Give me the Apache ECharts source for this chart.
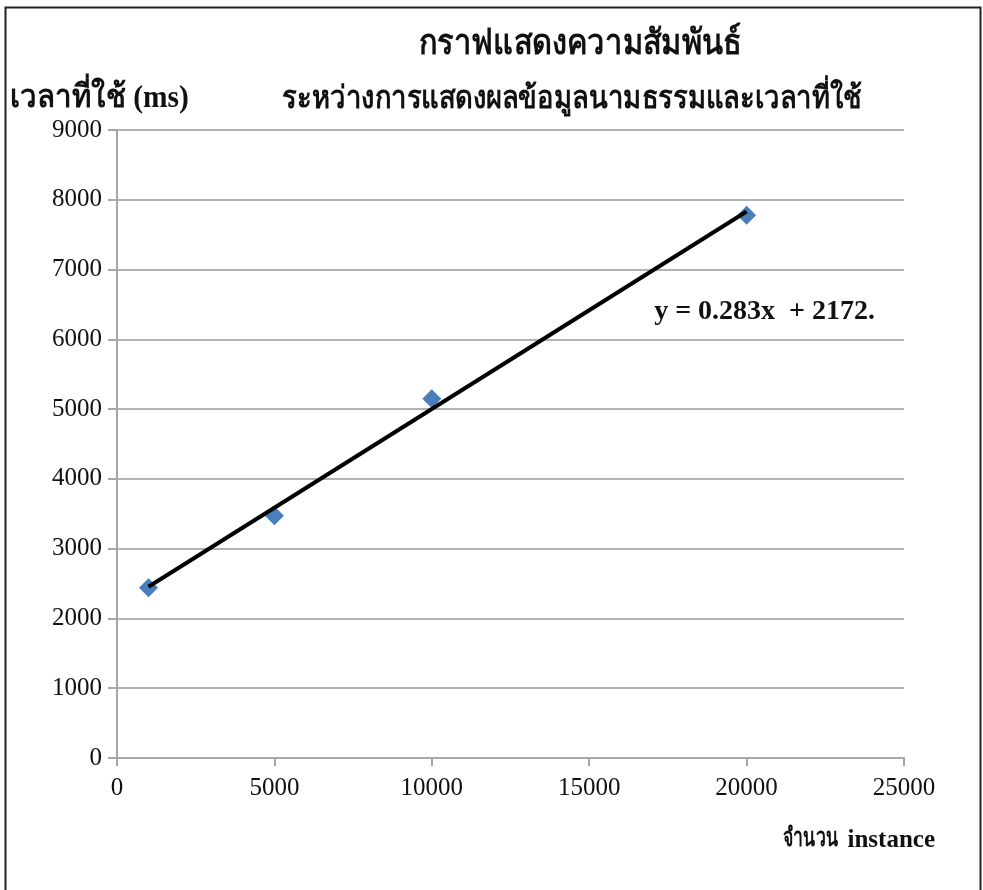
<!DOCTYPE html>
<html>
<head>
<meta charset="utf-8">
<script src="https://cdn.jsdelivr.net/npm/echarts@6/dist/echarts.min.js"></script>
<style>
  html, body { margin: 0; padding: 0; background: #fff; }
  #chart { width: 983px; height: 890px; }
</style>
</head>
<body>
<div id="chart"></div>
<script>
// Measured rendering times per number of instances
const instances = [1000, 5000, 10000, 20000];
const timesMs = [2440, 3470, 5150, 7780];

// Linear trendline as printed on the chart: y = 0.283x + 2172
const trendSlope = 0.283;
const trendIntercept = 2172;
const trendLabel = 'y = 0.283x  + 2172.';

const titleLine1 = 'กราฟแสดงความสัมพันธ์';
const titleLine2 = 'ระหว่างการแสดงผลข้อมูลนามธรรมและเวลาที่ใช้';
const yAxisName = 'เวลาที่ใช้ (ms)';
const xAxisNameThai = 'จำนวน';
const xAxisNameEn = 'instance';

const serif = '"Liberation Serif", "Times New Roman", serif';

const points = instances.map((x, i) => [x, timesMs[i]]);
const trendStart = instances[0];
const trendEnd = instances[instances.length - 1];
const trendLine = [
  [trendStart, trendSlope * trendStart + trendIntercept],
  [trendEnd, trendSlope * trendEnd + trendIntercept]
];

const chart = echarts.init(document.getElementById('chart'), null, { renderer: 'canvas' });

chart.setOption({
  backgroundColor: '#ffffff',
  animation: false,
  textStyle: { fontFamily: serif },
  graphic: [
    {
      type: 'rect',
      shape: { x: 5.5, y: 7.5, width: 975, height: 890 },
      style: { fill: 'none', stroke: '#222', lineWidth: 2 },
      z: 100
    },
    // Condensed bold titles
    {
      type: 'text', x: 580, y: 27, scaleX: 0.88,
      style: { text: titleLine1, font: 'bold 35px ' + serif, fill: '#111', textAlign: 'center' }
    },
    {
      type: 'text', x: 572, y: 84, scaleX: 0.87,
      style: { text: titleLine2, font: 'bold 31.5px ' + serif, fill: '#111', textAlign: 'center' }
    },
    {
      type: 'text', x: 10, y: 83, scaleX: 0.92,
      style: { text: yAxisName, font: 'bold 32px ' + serif, fill: '#111' }
    },
    // x-axis name: condensed Thai word followed by "instance"
    {
      type: 'text', x: 838, y: 826, scaleX: 0.68,
      style: { text: xAxisNameThai, font: 'bold 26px ' + serif, fill: '#111', textAlign: 'right' }
    },
    {
      type: 'text', x: 935, y: 828,
      style: { text: xAxisNameEn, font: 'bold 25px ' + serif, fill: '#111', textAlign: 'right' }
    }
  ],
  grid: { left: 117, right: 79, top: 130, bottom: 132, containLabel: false },
  xAxis: {
    type: 'value',
    min: 0, max: 25000, interval: 5000,
    axisLine: { show: true, lineStyle: { color: '#a6a6a6', width: 2 } },
    axisTick: { show: true, length: 8, lineStyle: { color: '#a6a6a6', width: 2 } },
    axisLabel: { color: '#111', fontSize: 25, fontFamily: serif, margin: 18, formatter: v => String(v) },
    splitLine: { show: false }
  },
  yAxis: {
    type: 'value',
    min: 0, max: 9000, interval: 1000,
    axisLine: { show: true, lineStyle: { color: '#a6a6a6', width: 2 } },
    axisTick: { show: true, length: 9, lineStyle: { color: '#a6a6a6', width: 2 } },
    axisLabel: { color: '#111', fontSize: 25, fontFamily: serif, margin: 15, formatter: v => String(v) },
    splitLine: { show: true, lineStyle: { color: '#b3b3b3', width: 2 } }
  },
  series: [
    {
      type: 'line',
      data: trendLine,
      symbol: 'none',
      lineStyle: { color: '#000', width: 4 },
      z: 3,
      markPoint: {
        symbol: 'rect', symbolSize: 0,
        data: [{
          coord: [trendEnd, trendSlope * trendEnd + trendIntercept],
          label: {
            show: true,
            formatter: trendLabel,
            fontSize: 28, fontWeight: 'bold', color: '#111', fontFamily: serif,
            position: 'bottom', offset: [18, 81]
          }
        }]
      }
    },
    {
      type: 'scatter',
      data: points,
      symbol: 'diamond',
      symbolSize: [19, 19],
      itemStyle: { color: '#4a7dbb', opacity: 1 },
      z: 2
    }
  ]
});
</script>
</body>
</html>
